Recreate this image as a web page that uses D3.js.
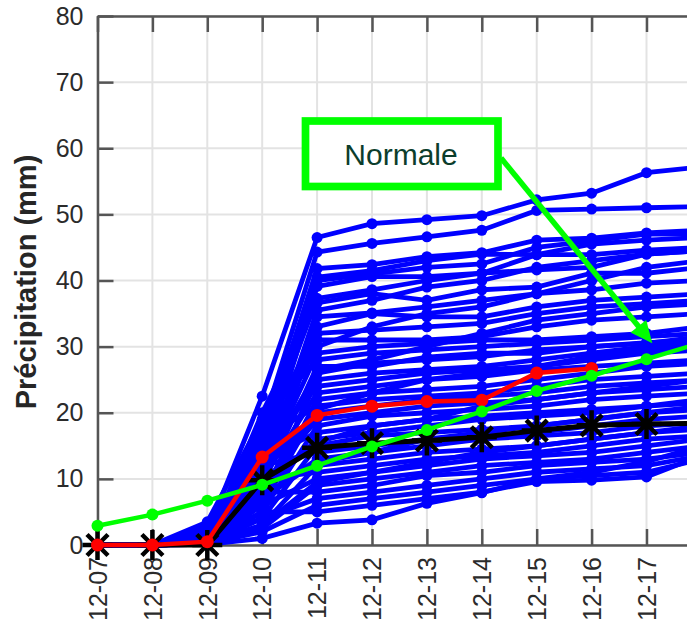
<!DOCTYPE html>
<html>
<head>
<meta charset="utf-8">
<script src="https://cdn.jsdelivr.net/npm/d3@7"></script>
<style>
    body { margin: 0; background: #fff; }
    text { font-family: "Liberation Sans", Arial, Helvetica, sans-serif; }
</style>
</head>
<body>
<script>

// dates of the series (12-18 is cut by the right border)
var dates = ["12-07", "12-08", "12-09", "12-10", "12-11", "12-12",
    "12-13", "12-14", "12-15", "12-16", "12-17", "12-18"];

// tick labels that are visible under the axis
var xTicks = ["12-07", "12-08", "12-09", "12-10", "12-11", "12-12",
    "12-13", "12-14", "12-15", "12-16", "12-17"];

var yTicks = [0, 10, 20, 30, 40, 50, 60, 70, 80];

// green: normale
var normale = [2.9, 4.6, 6.7, 9.1, 12.0, 14.9, 17.4, 20.2, 23.3, 25.6, 28.1, 30.6];

// red: observed up to 12-16
var observed = [0, 0, 0.5, 13.3, 19.6, 21.0, 21.7, 21.9, 26.0, 26.7];

// black asterisks
var reference = [0, 0, 0, 9.8, 14.7, 15.4, 15.8, 16.3, 17.3, 18.1, 18.3, 18.4];

// blue: ensemble members
var members = [
    [0, 0, 2.0, 22.5, 46.5, 48.6, 49.2, 49.8, 52.2, 53.2, 56.3, 57.2],
    [0, 0, 1.5, 18.0, 44.3, 45.6, 46.6, 47.6, 50.6, 50.8, 51.0, 51.2],
    [0, 0, 1.0, 16.0, 41.8, 42.4, 43.6, 44.2, 46.1, 46.4, 47.2, 47.6],
    [0, 0, 0.5, 14.0, 40.5, 41.5, 43.0, 44.0, 43.9, 45.5, 46.1, 46.5],
    [0, 0, 1.2, 12.0, 39.1, 40.6, 40.6, 41.1, 43.9, 43.9, 44.6, 45.0],
    [0, 0, 0.8, 15.0, 37.3, 38.6, 40.0, 41.1, 41.6, 42.0, 44.0, 44.5],
    [0, 0, 0.3, 20.0, 36.6, 38.0, 37.0, 38.6, 39.0, 41.1, 41.1, 42.0],
    [0, 0, 2.5, 10.0, 34.5, 35.1, 36.0, 37.0, 38.0, 38.6, 39.6, 40.0],
    [0, 0, 0.2, 8.0, 33.0, 35.0, 34.5, 34.5, 36.0, 37.0, 37.5, 38.0],
    [0, 0, 1.8, 17.0, 32.0, 32.5, 33.0, 33.5, 35.0, 36.0, 36.5, 37.0],
    [0, 0, 0.6, 13.0, 31.0, 31.0, 31.0, 31.5, 33.0, 34.0, 34.5, 35.0],
    [0, 0, 0.4, 11.0, 29.0, 30.0, 30.5, 31.0, 31.0, 31.5, 32.0, 33.0],
    [0, 0, 3.5, 19.0, 28.0, 29.0, 29.5, 30.0, 30.5, 31.0, 31.5, 32.0],
    [0, 0, 0.9, 9.0, 27.0, 27.0, 28.4, 29.0, 29.0, 30.0, 30.6, 31.0],
    [0, 0, 1.1, 12.0, 26.0, 27.5, 28.0, 28.5, 29.5, 30.0, 30.5, 31.5],
    [0, 0, 0.7, 7.0, 25.0, 26.0, 26.5, 27.0, 28.0, 29.0, 30.0, 30.5],
    [0, 0, 2.2, 14.0, 24.0, 25.0, 26.0, 26.5, 27.0, 28.0, 29.0, 29.5],
    [0, 0, 0.5, 10.0, 23.0, 24.0, 25.0, 25.5, 26.5, 27.0, 27.5, 28.0],
    [0, 0, 1.4, 6.0, 22.0, 23.0, 23.5, 24.0, 25.0, 26.0, 27.0, 27.5],
    [0, 0, 0.3, 16.0, 21.0, 22.0, 22.5, 23.0, 24.0, 25.0, 25.5, 26.0],
    [0, 0, 0.8, 11.0, 20.0, 21.0, 22.0, 22.5, 23.0, 24.0, 24.5, 25.0],
    [0, 0, 1.6, 9.0, 19.0, 20.0, 21.0, 21.5, 22.0, 23.0, 23.5, 24.0],
    [0, 0, 0.2, 5.0, 18.0, 19.5, 20.0, 20.5, 21.0, 22.0, 22.5, 23.0],
    [0, 0, 2.8, 13.0, 17.0, 18.0, 19.0, 19.5, 20.0, 20.5, 21.0, 22.0],
    [0, 0, 0.6, 8.0, 16.0, 17.0, 18.0, 19.0, 19.5, 20.0, 21.0, 21.5],
    [0, 0, 1.0, 4.0, 15.0, 16.5, 17.0, 17.5, 18.0, 19.0, 20.0, 20.5],
    [0, 0, 0.4, 12.0, 14.0, 15.0, 16.0, 16.5, 17.0, 18.0, 19.0, 19.5],
    [0, 0, 1.3, 7.0, 13.0, 14.0, 15.0, 16.0, 16.5, 17.0, 18.0, 18.5],
    [0, 0, 0.1, 3.0, 12.0, 13.0, 14.0, 14.5, 15.0, 16.0, 17.0, 17.5],
    [0, 0, 0.9, 10.0, 11.0, 12.0, 13.0, 13.5, 14.0, 15.0, 16.0, 16.5],
    [0, 0, 2.0, 6.0, 10.0, 11.0, 12.0, 13.0, 13.5, 14.0, 15.0, 16.0],
    [0, 0, 0.5, 2.5, 9.0, 10.0, 11.0, 12.0, 12.5, 13.0, 14.0, 15.0],
    [0, 0, 0.3, 8.0, 8.0, 9.0, 10.5, 11.0, 12.0, 12.5, 13.0, 14.0],
    [0, 0, 1.2, 4.0, 7.0, 8.0, 9.0, 10.0, 11.0, 11.5, 12.0, 13.5],
    [0, 0, 0.2, 2.0, 6.0, 7.0, 8.0, 9.0, 10.0, 10.5, 11.0, 13.0],
    [0, 0, 0.7, 5.0, 5.0, 6.0, 7.0, 8.0, 9.6, 9.8, 10.3, 13.5],
    [0, 0, 0.1, 1.0, 3.3, 3.8, 6.3, 7.9, 10.0, 11.0, 12.6, 15.0],
    [0, 0, 0.4, 3.0, 9.5, 11.0, 12.5, 14.0, 15.0, 16.0, 17.0, 18.0],
    [0, 0, 1.5, 7.0, 12.5, 14.0, 16.0, 17.0, 18.0, 19.0, 20.0, 21.0],
    [0, 0, 0.8, 9.0, 15.5, 18.0, 19.0, 21.0, 22.0, 23.0, 24.0, 25.0],
    [0, 0, 0.3, 6.0, 20.5, 23.0, 25.0, 26.0, 27.0, 28.5, 29.5, 30.0],
    [0, 0, 2.4, 15.0, 30.0, 33.0, 35.0, 36.0, 38.0, 40.0, 42.0, 43.0],
    [0, 0, 0.6, 11.0, 35.5, 37.0, 39.0, 40.0, 42.0, 43.0, 44.0, 44.5],
    [0, 0, 1.0, 18.0, 40.0, 41.0, 42.0, 42.5, 45.0, 46.0, 47.0, 47.0],
    [0, 0, 0.2, 4.0, 26.5, 28.0, 30.0, 32.0, 34.0, 35.0, 36.0, 36.5]
];


var svg = d3.select("body")
    .append("svg")
    .attr("width", 687)
    .attr("height", 628);

var xScale = d3.scalePoint()
    .domain(dates)
    .range([97.5, 701.4]);

var yScale = d3.scaleLinear()
    .domain([0, 80])
    .range([545, 16]);

var line = d3.line()
    .x(function (d, i) { return xScale(dates[i]); })
    .y(function (d) { return yScale(d); });

// grid
var grid = svg.append("g");
grid.selectAll(".vg")
    .data(dates)
    .enter()
    .append("line")
    .attr("x1", function (d) { return xScale(d); })
    .attr("x2", function (d) { return xScale(d); })
    .attr("y1", yScale(80))
    .attr("y2", yScale(0))
    .attr("stroke", "#e3e3e3")
    .attr("stroke-width", 2);
grid.selectAll(".hg")
    .data(yTicks)
    .enter()
    .append("line")
    .attr("x1", xScale(dates[0]))
    .attr("x2", 687)
    .attr("y1", function (d) { return yScale(d); })
    .attr("y2", function (d) { return yScale(d); })
    .attr("stroke", "#e3e3e3")
    .attr("stroke-width", 2);

// axes
var yAxis = d3.axisLeft(yScale).tickValues(yTicks).tickSize(-16).tickSizeOuter(0).tickPadding(14);
var xAxis = d3.axisBottom(xScale).tickValues(xTicks).tickSize(-16).tickSizeOuter(0);
var xTop = d3.axisTop(xScale).tickValues(xTicks).tickSize(-16).tickSizeOuter(0).tickFormat("");

var gy = svg.append("g")
    .attr("transform", "translate(" + xScale(dates[0]) + ",0)")
    .call(yAxis);

var gx = svg.append("g")
    .attr("transform", "translate(0," + yScale(0) + ")")
    .call(xAxis);

var gt = svg.append("g")
    .attr("transform", "translate(0," + yScale(80) + ")")
    .call(xTop);

[gy, gx, gt].forEach(function (g) {
    g.select(".domain").attr("stroke", "#555").attr("stroke-width", 2.5);
    g.selectAll(".tick line").attr("stroke", "#555").attr("stroke-width", 2.5);
    g.selectAll("text")
        .attr("fill", "#2b2b2b")
        .attr("font-size", 25)
        .attr("font-family", "'Liberation Sans', Arial, sans-serif");
});

gx.selectAll("text")
    .attr("y", 0)
    .attr("x", -12)
    .attr("dy", "0.35em")
    .attr("transform", "rotate(-90)")
    .style("text-anchor", "end");

svg.append("text")
    .attr("transform", "translate(36,282) rotate(-90)")
    .style("text-anchor", "middle")
    .attr("font-size", 29)
    .attr("font-weight", "bold")
    .attr("fill", "#262626")
    .text("Précipitation (mm)");

// ensemble members
var gm = svg.append("g");
gm.selectAll("path")
    .data(members)
    .enter()
    .append("path")
    .attr("d", line)
    .attr("fill", "none")
    .attr("stroke", "#0000ff")
    .attr("stroke-width", 4.8);

members.forEach(function (m) {
    gm.append("g").selectAll("circle")
        .data(m)
        .enter()
        .append("circle")
        .attr("cx", function (d, i) { return xScale(dates[i]); })
        .attr("cy", function (d) { return yScale(d); })
        .attr("r", 5.5)
        .attr("fill", "#0000ff");
});

// black reference with asterisks
svg.append("path")
    .attr("d", line(reference))
    .attr("fill", "none")
    .attr("stroke", "#000")
    .attr("stroke-width", 5);

svg.append("g").selectAll("path")
    .data(reference)
    .enter()
    .append("path")
    .attr("transform", function (d, i) {
        return "translate(" + xScale(dates[i]) + "," + yScale(d) + ")";
    })
    .attr("d", "M-15,0H15M0,-15V15M-10.5,-10.5L10.5,10.5M-10.5,10.5L10.5,-10.5")
    .attr("stroke", "#000")
    .attr("stroke-width", 4.5);

// red observed
svg.append("path")
    .attr("d", line(observed))
    .attr("fill", "none")
    .attr("stroke", "#ff0000")
    .attr("stroke-width", 4.5);

svg.append("g").selectAll("circle")
    .data(observed)
    .enter()
    .append("circle")
    .attr("cx", function (d, i) { return xScale(dates[i]); })
    .attr("cy", function (d) { return yScale(d); })
    .attr("r", 6.5)
    .attr("fill", "#ff0000");

// green normale
svg.append("path")
    .attr("d", line(normale))
    .attr("fill", "none")
    .attr("stroke", "#00ff00")
    .attr("stroke-width", 4.5);

svg.append("g").selectAll("circle")
    .data(normale)
    .enter()
    .append("circle")
    .attr("cx", function (d, i) { return xScale(dates[i]); })
    .attr("cy", function (d) { return yScale(d); })
    .attr("r", 6)
    .attr("fill", "#00ff00");

// annotation
svg.append("line")
    .attr("x1", 501)
    .attr("y1", 158)
    .attr("x2", 639)
    .attr("y2", 327)
    .attr("stroke", "#00ff00")
    .attr("stroke-width", 5.5);

svg.append("path")
    .attr("d", "M652.3,343.3L630.6,332.5L646.2,319.9Z")
    .attr("fill", "#00ff00");

svg.append("rect")
    .attr("x", 305.5)
    .attr("y", 121)
    .attr("width", 192.5)
    .attr("height", 65.5)
    .attr("fill", "#fff")
    .attr("stroke", "#00ff00")
    .attr("stroke-width", 7.7);

svg.append("text")
    .attr("x", 401)
    .attr("y", 165)
    .style("text-anchor", "middle")
    .attr("font-size", 30)
    .attr("fill", "#0b3d2c")
    .text("Normale");

</script>
</body>
</html>
